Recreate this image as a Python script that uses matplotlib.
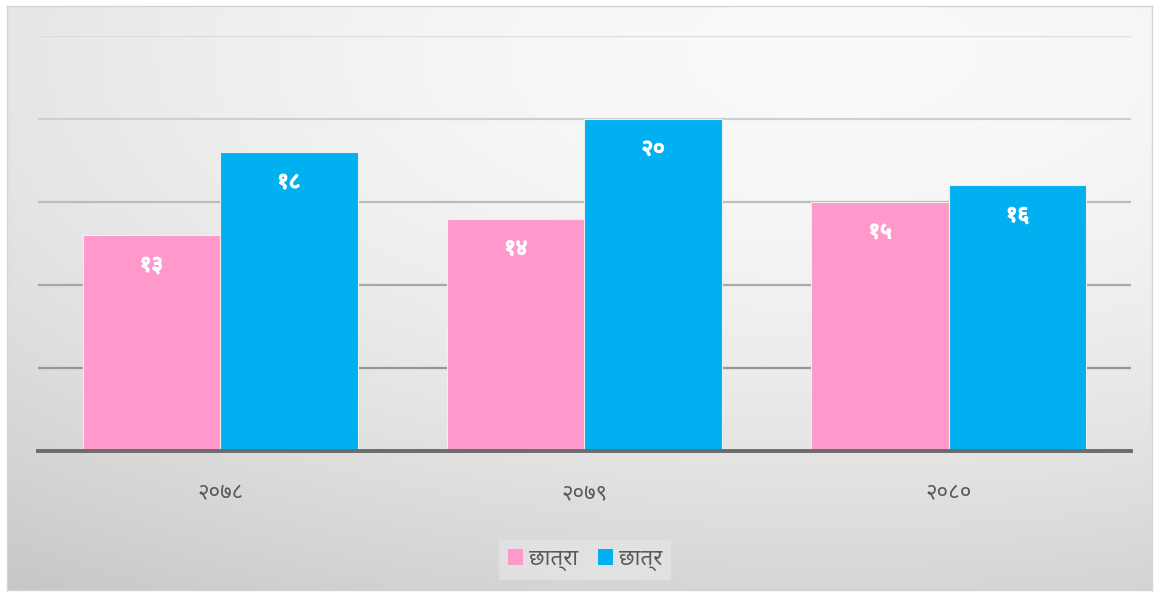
import matplotlib
matplotlib.use("Agg")
import matplotlib.pyplot as plt
import matplotlib.patheffects as pe
import numpy as np
from matplotlib.patches import Patch

# data
years = ["२०७८", "२०७९", "२०८०"]
chhatra_f = [13, 14, 15]   # छात्रा
chhatra_m = [18, 20, 16]   # छात्र
labels_f = ["१३", "१४", "१५"]
labels_m = ["१८", "२०", "१६"]
series_names = ["छात्रा", "छात्र"]

fams = ["Noto Sans Devanagari", "Mukta", "Hind", "FreeSans", "DejaVu Sans"]
plt.rcParams["font.family"] = fams

W, H = 1158, 593
fig = plt.figure(figsize=(W / 100, H / 100), dpi=100)
fig.patch.set_facecolor("white")

# gradient background of the chart area
bg = fig.add_axes([7 / W, 3 / H, 1145 / W, 584 / H], zorder=0)
gx, gy = np.meshgrid(np.linspace(0, 1, 400), np.linspace(0, 1, 200))
r = np.sqrt((gx - 0.72) ** 2 + ((gy - 0.08) * 1.1) ** 2) / 1.24
r = np.clip(r, 0, 1)
grey = 0.98 - 0.2 * r ** 1.75
bg.imshow(np.dstack([grey, grey, grey]), aspect="auto", extent=[0, 1, 1, 0])
bg.set_xticks([])
bg.set_yticks([])
for s in bg.spines.values():
    s.set_color("#d4d4d4")
    s.set_linewidth(1)

ax = fig.add_axes([38 / W, (H - 451) / H, (1131 - 38) / W, (451 - 36) / H], zorder=1)
ax.set_facecolor("none")

x = np.arange(len(years))
w = 0.377
pink = "#ff99cc"
blue = "#00b0f0"

ax.bar(x - w / 2, chhatra_f, w, color=pink, edgecolor="#eeeeee", linewidth=0.8, zorder=3)
ax.bar(x + w / 2, chhatra_m, w, color=blue, edgecolor="#eeeeee", linewidth=0.8, zorder=3)

bold = [pe.withStroke(linewidth=1.1, foreground="white")]
for i in range(len(years)):
    ax.text(x[i] - w / 2, chhatra_f[i] - 1.85, labels_f[i], ha="center", va="center",
            color="white", fontsize=16, fontweight="bold", zorder=4, path_effects=bold)
    ax.text(x[i] + w / 2, chhatra_m[i] - 1.85, labels_m[i], ha="center", va="center",
            color="white", fontsize=16, fontweight="bold", zorder=4, path_effects=bold)

ax.set_xlim(-0.5, 2.5)
ax.set_ylim(0, 25)
# gridlines fade lighter toward the top
grid_cols = {5: "#959595", 10: "#a8a8a8", 15: "#bcbcbc", 20: "#cfcfcf", 25: "#dcdcdc"}
for yv, c in grid_cols.items():
    ax.axhline(yv, color=c, linewidth=1.6, zorder=1)
ax.set_yticks([])
ax.set_xticks(x)
ax.set_xticklabels(years, fontsize=16, color="#595959")
ax.tick_params(axis="x", length=0, pad=23)
for s in ["top", "right", "left"]:
    ax.spines[s].set_visible(False)
ax.spines["bottom"].set_color("#6b6b6b")
ax.spines["bottom"].set_linewidth(2.8)
ax.spines["bottom"].set_zorder(5)

handles = [Patch(facecolor=pink), Patch(facecolor=blue)]
leg = fig.legend(handles, series_names, loc="center", bbox_to_anchor=(585 / W, (H - 560) / H),
                 ncol=2, frameon=True, fontsize=16, handlelength=0.7, handleheight=0.7,
                 handletextpad=0.25, columnspacing=0.9, borderpad=0.4)
leg.get_frame().set_facecolor("#e4e4e4")
leg.get_frame().set_edgecolor("none")
leg.get_frame().set_boxstyle("square", pad=0.0)
for t in leg.get_texts():
    t.set_color("#595959")

fig.savefig("out.png", dpi=100)
